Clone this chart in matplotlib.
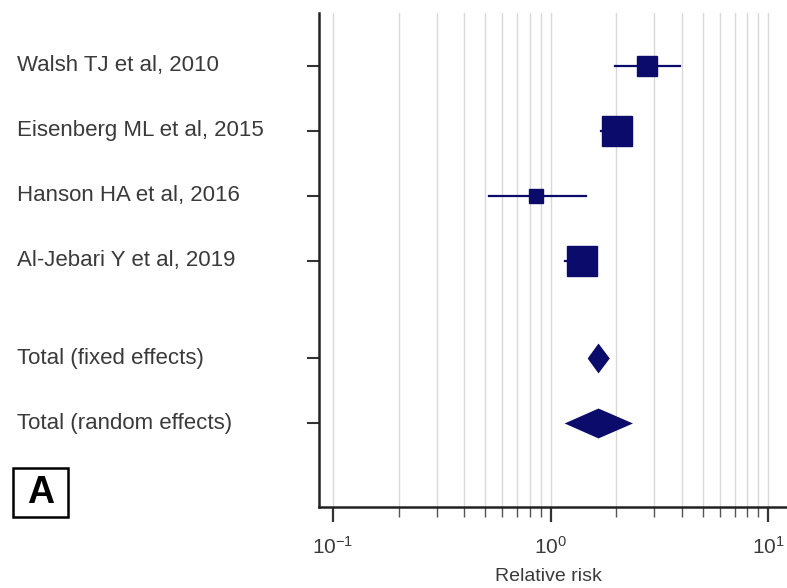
import matplotlib.pyplot as plt
import matplotlib.ticker as mticker
import matplotlib.transforms as mtransforms
from matplotlib.patches import Rectangle
import numpy as np

plt.rcParams['font.family'] = ['Liberation Sans', 'DejaVu Sans']

studies = ['Walsh TJ et al, 2010', 'Eisenberg ML et al, 2015',
           'Hanson HA et al, 2016', 'Al-Jebari Y et al, 2019']
rr = [2.77, 2.01, 0.86, 1.39]
ci_lo = [1.97, 1.70, 0.52, 1.17]
ci_hi = [3.93, 2.30, 1.45, 1.62]
weights = [16.5, 37.5, 8.5, 37.5]

totals = ['Total (fixed effects)', 'Total (random effects)']
tot_rr = [1.66, 1.66]
tot_lo = [1.48, 1.16]
tot_hi = [1.87, 2.39]

navy = '#0B0B6B'
txt = '#3a3a3a'

fig = plt.figure(figsize=(7.87, 5.88), dpi=100)
ax = fig.add_axes([319 / 787, 81 / 588, 481 / 787, 494 / 588])

ypos = [0, 1, 2, 3]
ytot = [4.5, 5.5]

for y, m, lo, hi, w in zip(ypos, rr, ci_lo, ci_hi, weights):
    ax.plot([lo, hi], [y, y], color=navy, lw=1.6, zorder=3)
    ms = 21.6 * np.sqrt(w / max(weights))
    ax.plot(m, y, marker='s', ms=ms, color=navy, zorder=4)

for y, m, lo, hi in zip(ytot, tot_rr, tot_lo, tot_hi):
    h = 0.23
    ax.fill([lo, m, hi, m], [y, y - h, y, y + h], color=navy, zorder=4, lw=0)

ax.set_xscale('log')
ax.set_xlim(0.0862, 14.0)
ax.set_ylim(6.785, -0.815)

ax.xaxis.set_major_locator(mticker.FixedLocator([0.1, 1, 10]))
minors = [k * 0.1 for k in range(2, 10)] + list(range(2, 10))
ax.xaxis.set_minor_locator(mticker.FixedLocator(minors))
ax.xaxis.set_minor_formatter(mticker.NullFormatter())
ax.grid(which='both', axis='x', color='#d8d8d8', lw=1.0, zorder=0)
ax.set_axisbelow(True)

# study labels, left aligned at the figure edge
lab_tr = mtransforms.blended_transform_factory(fig.transFigure, ax.transData)
ax.set_yticks(ypos + ytot)
ax.set_yticklabels([])
for y, lab in zip(ypos + ytot, studies + totals):
    ax.text(17 / 787, y, lab, transform=lab_tr, ha='left', va='center',
            fontsize=16, color=txt)

ax.tick_params(axis='y', which='major', direction='out', length=8.6,
               width=1.5, color='#333333')
ax.tick_params(axis='x', which='major', direction='out', length=11,
               width=1.6, color='#333333', labelsize=15, labelcolor=txt, pad=10)
ax.tick_params(axis='x', which='minor', direction='out', length=7,
               width=1.0, color='#555555')

ax.spines[['top', 'right']].set_visible(False)
for s in ['left', 'bottom']:
    ax.spines[s].set_linewidth(1.8)
    ax.spines[s].set_color('#222222')

ax.text(0.478, -0.1417, 'Relative risk', transform=ax.transAxes,
        ha='center', va='center', fontsize=14, color=txt)

# panel letter
fig.patches.append(Rectangle((13 / 787, 1 - 517 / 588), 55 / 787, 49 / 588,
                             transform=fig.transFigure, fill=False,
                             ec='black', lw=1.8))
fig.text(40.5 / 787, 1 - 493 / 588, 'A', fontsize=27, fontweight='bold',
         ha='center', va='center')

fig.savefig('out.png', dpi=100)
